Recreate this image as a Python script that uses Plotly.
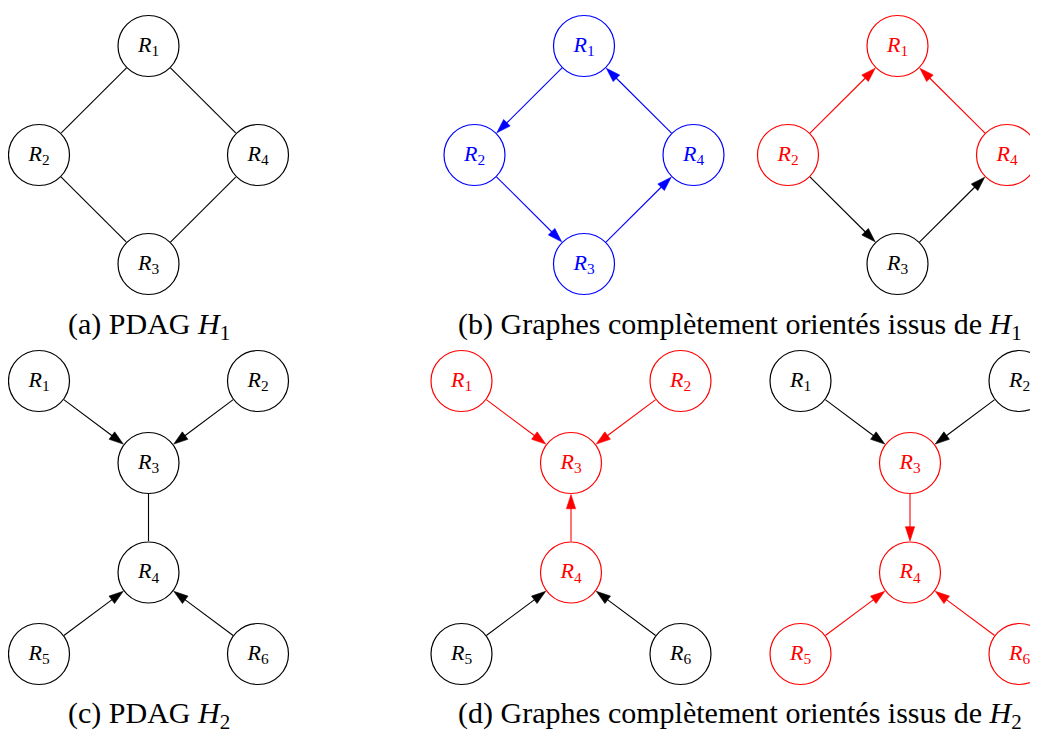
import math
import plotly.graph_objects as go

# ---------------- data ----------------
h1_nodes = ["R1", "R2", "R3", "R4"]
h2_nodes = ["R1", "R2", "R3", "R4", "R5", "R6"]

# edges: (from, to, directed, colour-key)
a_edges = [("R1", "R2", False, "k"), ("R1", "R4", False, "k"),
           ("R2", "R3", False, "k"), ("R3", "R4", False, "k")]
a_cols = {"R1": "k", "R2": "k", "R3": "k", "R4": "k"}

b1_edges = [("R1", "R2", True, "b"), ("R2", "R3", True, "b"),
            ("R3", "R4", True, "b"), ("R4", "R1", True, "b")]
b1_cols = {"R1": "b", "R2": "b", "R3": "b", "R4": "b"}

b2_edges = [("R2", "R1", True, "r"), ("R4", "R1", True, "r"),
            ("R2", "R3", True, "k"), ("R3", "R4", True, "k")]
b2_cols = {"R1": "r", "R2": "r", "R3": "k", "R4": "r"}

c_edges = [("R1", "R3", True, "k"), ("R2", "R3", True, "k"),
           ("R3", "R4", False, "k"), ("R5", "R4", True, "k"),
           ("R6", "R4", True, "k")]
c_cols = {n: "k" for n in h2_nodes}

d1_edges = [("R1", "R3", True, "r"), ("R2", "R3", True, "r"),
            ("R4", "R3", True, "r"), ("R5", "R4", True, "k"),
            ("R6", "R4", True, "k")]
d1_cols = {"R1": "r", "R2": "r", "R3": "r", "R4": "r", "R5": "k", "R6": "k"}

d2_edges = [("R1", "R3", True, "k"), ("R2", "R3", True, "k"),
            ("R3", "R4", True, "r"), ("R5", "R4", True, "r"),
            ("R6", "R4", True, "r")]
d2_cols = {"R1": "k", "R2": "k", "R3": "r", "R4": "r", "R5": "r", "R6": "r"}

captions = ["(a) PDAG <i>H</i><sub>1</sub>",
            "(b) Graphes complètement orientés issus de <i>H</i><sub>1</sub>",
            "(c) PDAG <i>H</i><sub>2</sub>",
            "(d) Graphes complètement orientés issus de <i>H</i><sub>2</sub>"]

# ---------------- layout (drawing geometry) ----------------
COL = {"k": "#000000", "b": "#0000ff", "r": "#ff0000"}
diamond = {"R1": (0, -109), "R2": (-109.5, 0), "R3": (0, 109), "R4": (109.5, 0)}
yshape = {"R1": (-109.5, -82), "R2": (109.5, -82), "R3": (0, 0),
          "R4": (0, 109.5), "R5": (-109.5, 191), "R6": (109.5, 191)}

graphs = [
    (h1_nodes, a_edges, a_cols, diamond, (148.5, 155)),
    (h1_nodes, b1_edges, b1_cols, diamond, (584, 155)),
    (h1_nodes, b2_edges, b2_cols, diamond, (897.5, 155)),
    (h2_nodes, c_edges, c_cols, yshape, (148.5, 463)),
    (h2_nodes, d1_edges, d1_cols, yshape, (571, 463)),
    (h2_nodes, d2_edges, d2_cols, yshape, (910, 463)),
]
caption_pos = [(148.5, 326), (740, 326), (148.5, 715), (740, 715)]

R = 31          # node radius (px)
PAGE = 8        # browser body margin (px)
FONT = "Liberation Serif"

fig = go.Figure()
for nodes, edges, cols, shape, (cx, cy) in graphs:
    pos = {n: (cx + shape[n][0], cy + shape[n][1]) for n in nodes}
    for a, b, directed, c in edges:
        (x0, y0), (x1, y1) = pos[a], pos[b]
        L = math.hypot(x1 - x0, y1 - y0)
        ux, uy = (x1 - x0) / L, (y1 - y0) / L
        sx, sy = x0 + ux * R, y0 + uy * R
        ex, ey = x1 - ux * (R + 0.5), y1 - uy * (R + 0.5)
        fig.add_trace(go.Scatter(
            x=[sx, ex], y=[sy, ey],
            mode="lines+markers" if directed else "lines",
            line=dict(color=COL[c], width=1.1),
            marker=dict(symbol="arrow", size=[0, 15], angleref="previous",
                        opacity=1, color=COL[c],
                        line=dict(width=0.6, color=COL[c])),
            opacity=1,
            hoverinfo="skip", showlegend=False))
    fig.add_trace(go.Scatter(
        x=[pos[n][0] for n in nodes], y=[pos[n][1] for n in nodes],
        mode="markers+text",
        marker=dict(size=2 * R - 1, color="white",
                    line=dict(width=1.2, color=[COL[cols[n]] for n in nodes])),
        text=[f"<i>R</i><sub>{n[1]}</sub>" for n in nodes],
        textposition="middle center",
        textfont=dict(family=FONT, size=22, color=[COL[cols[n]] for n in nodes]),
        hoverinfo="skip", showlegend=False))

annotations = []
for txt, (x, y) in zip(captions, caption_pos):
    annotations.append(dict(x=x, y=y, xref="x", yref="y", text=txt,
                            showarrow=False,
                            font=dict(family=FONT, size=30, color="black")))

fig.update_layout(
    width=1038, height=731, margin=dict(l=0, r=0, t=0, b=0),
    paper_bgcolor="white", plot_bgcolor="white",
    xaxis=dict(range=[PAGE, 1038 + PAGE], visible=False, fixedrange=True),
    yaxis=dict(range=[731 + PAGE, PAGE], visible=False, fixedrange=True),
    annotations=annotations, showlegend=False)

fig.write_html("out.html")
